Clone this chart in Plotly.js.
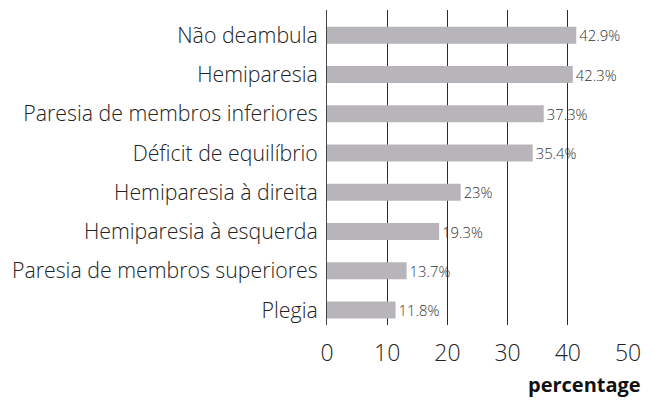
<!DOCTYPE html>
<html>
<head>
<meta charset="utf-8">
<script src="https://cdn.plot.ly/plotly-3.0.1.min.js"></script>
<style>html,body{margin:0;padding:0;background:#fff;}#chart{width:654px;height:400px;}</style>
</head>
<body>
<div id="chart"></div>
<script>
const categories = [
  "Não deambula",
  "Hemiparesia",
  "Paresia de membros inferiores",
  "Déficit de equilíbrio",
  "Hemiparesia à direita",
  "Hemiparesia à esquerda",
  "Paresia de membros superiores",
  "Plegia"
];
const values = [42.9, 42.3, 37.3, 35.4, 23, 19.3, 13.7, 11.8];
const valueLabels = ["42.9%", "42.3%", "37.3%", "35.4%", "23%", "19.3%", "13.7%", "11.8%"];
const xTicks = [0, 10, 20, 30, 40, 50];
const axisTitle = "percentage";

const FONT = '"Open Sans", sans-serif';

const trace = {
  type: 'bar',
  orientation: 'h',
  x: values,
  y: categories,
  xaxis: 'x2',
  text: valueLabels,
  textposition: 'outside',
  constraintext: 'none',
  cliponaxis: false,
  textfont: {family: FONT, size: 14.8, color: '#333', weight: 300},
  marker: {color: '#b7b5b9', line: {width: 0}},
  width: 0.433,
  hoverinfo: 'none'
};

// invisible trace to anchor the gridline axis
const gridTrace = {
  type: 'scatter', mode: 'none',
  x: [xTicks[0], xTicks[xTicks.length - 1]],
  y: [categories[0], categories[0]],
  xaxis: 'x', yaxis: 'y', hoverinfo: 'none', showlegend: false
};

const layout = {
  width: 654, height: 400,
  margin: {l: 327, r: 26, t: 10, b: 75},
  paper_bgcolor: '#fff', plot_bgcolor: '#fff',
  showlegend: false,
  font: {family: FONT, color: '#222'},
  xaxis: {
    range: [0, 50],
    tickvals: xTicks,
    ticktext: xTicks.map(String),
    showgrid: true, gridcolor: '#2b2b2b', gridwidth: 1,
    zeroline: false, showline: false,
    ticks: '', ticklabelstandoff: 12,
    tickfont: {family: FONT, size: 23, color: '#222', weight: 300},
    fixedrange: true
  },
  xaxis2: {
    overlaying: 'x',
    range: [0, 51.8],
    showgrid: false, zeroline: false, showline: false,
    showticklabels: false, ticks: '',
    fixedrange: true
  },
  yaxis: {
    type: 'category',
    range: [7.38, -0.645],
    showgrid: false, zeroline: false,
    showline: true, linecolor: '#444', linewidth: 1,
    ticks: '', ticklabelstandoff: 4,
    tickfont: {family: FONT, size: 21.3, color: '#222', weight: 300},
    fixedrange: true
  },
  annotations: [{
    text: axisTitle,
    xref: 'paper', yref: 'paper',
    x: 1.05, y: -0.19,
    xanchor: 'right', yanchor: 'middle',
    showarrow: false,
    font: {family: FONT, size: 20, color: '#111', weight: 700}
  }]
};

Plotly.newPlot('chart', [gridTrace, trace], layout, {displayModeBar: false, staticPlot: true});
</script>
</body>
</html>
